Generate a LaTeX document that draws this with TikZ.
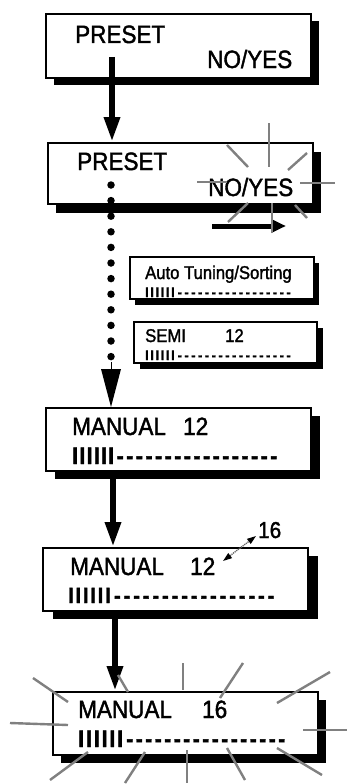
\documentclass[tikz,border=0pt]{standalone}
\usepackage{fontspec}
\newfontfamily\lcd{Liberation Sans}[FakeStretch=0.9, FakeBold=1.6]
\usetikzlibrary{arrows.meta,shadows}
\newcommand\lcdbars[4]{\fontsize{#1}{#1}\selectfont\foreach\k in {1,...,6}{\makebox[#2][l]{\bfseries I}}\foreach\k in {1,...,#3}{\makebox[#4]{\bfseries -}}}
\begin{document}
\begin{tikzpicture}[x=1pt,y=-1pt,
  lcdbox/.style={draw, line width=1.9pt, fill=white, anchor=north west, inner sep=0pt},
  shd/.style 2 args={drop shadow={shadow xshift=#1pt, shadow yshift=-#2pt, opacity=1, fill=black}},
  big/.style={anchor=base west, inner sep=0pt, font=\lcd\fontsize{25}{25}\selectfont},
  small/.style={anchor=base west, inner sep=0pt, font=\lcd\fontsize{18.5}{18.5}\selectfont},
  bars/.style={anchor=base west, inner sep=0pt, font=\lcd},
  flash/.style={draw=black!50, line width=2.4pt},
  bigarrow/.style={line width=6pt, -{Triangle[length=25pt,width=15pt]}}]
\useasboundingbox[fill=white] (0,0) rectangle (347,784);

% boxes
\node[lcdbox, shd={8}{7}, minimum width=265pt, minimum height=64pt] (b1) at (45,13) {};
\node[lcdbox, shd={8}{9}, minimum width=265pt, minimum height=61pt] (b2) at (47,142) {};
\node[lcdbox, shd={5}{6}, minimum width=184pt, minimum height=42pt] (b3) at (129,256) {};
\node[lcdbox, shd={6}{6}, minimum width=183pt, minimum height=41pt] (b4) at (133,321) {};
\node[lcdbox, shd={9}{8}, minimum width=265pt, minimum height=63pt] (b5) at (45,407) {};
\node[lcdbox, shd={10}{8}, minimum width=265pt, minimum height=63pt] (b6) at (42,547) {};
\node[lcdbox, shd={8}{8}, minimum width=265pt, minimum height=63pt] (b7) at (52,691) {};

% texts
\node[big] (t1a) at (75,43) {PRESET};
\node[big] (t1b) at (207,68) {NO/YES};
\node[big] (t2a) at (77,170) {PRESET};
\node[big] (t2b) at (208,196) {NO/YES};
\node[small] (t3a) at (145,279) {Auto Tuning/Sorting};
\node[bars] (t3b) at (145,297) {\lcdbars{14}{5.2pt}{17}{6.8pt}};
\node[small] (t4a) at (145,342) {SEMI};
\node[small] (t4c) at (225,342) {12};
\node[bars] (t4b) at (145,360) {\lcdbars{14}{5.2pt}{17}{6.8pt}};
\node[big] (t5a) at (72,435) {MANUAL};
\node[big] (t5c) at (183,435) {12};
\node[bars] (t5b) at (72,464) {\lcdbars{24}{7.2pt}{17}{9.6pt}};
\node[big] (t6a) at (70,575) {MANUAL};
\node[big] (t6c) at (190,575) {12};
\node[bars] (t6b) at (68,603) {\lcdbars{22}{7.4pt}{17}{9.6pt}};
\node[anchor=base west, inner sep=0pt, font=\lcd\fontsize{23}{23}\selectfont] (t16) at (258,538) {16};
\node[big] (t7a) at (78,718) {MANUAL};
\node[big] (t7c) at (202,718) {16};
\node[bars] (t7b) at (78,747) {\lcdbars{24}{7.8pt}{17}{9.5pt}};

% connectors
\coordinate (a1s) at (112,57);
\draw[bigarrow] (a1s) -- (b2.north -| a1s);
\coordinate (a2s) at (111,185);
\draw[line width=7.5pt, line cap=round, dash pattern=on 0pt off 15.6pt] (a2s) -- (111,357);
\draw[line width=0pt, -{Triangle[length=38pt,width=20pt]}] (111,362) -- (b5.north -| a2s);
\coordinate (a3s) at (113,470);
\draw[bigarrow] (b5.south -| a3s) -- (b6.north -| a3s);
\coordinate (a4s) at (115,610);
\draw[bigarrow] (b6.south -| a4s) -- (b7.north -| a4s);
\coordinate (ra1) at (212,226);
\coordinate (ra2) at (286,226);
\draw[line width=5pt, -{Triangle[length=15pt,width=13pt]}] (ra1) -- (ra2);
\coordinate (sa1) at (223,561);
\coordinate (sa2) at (256,536);
\draw[draw=black!60, line width=1.3pt, dash pattern=on 1.2pt off 0.8pt, {Triangle[length=9pt,width=6pt,fill=black,color=black]}-{Triangle[length=9pt,width=6pt,fill=black,color=black]}] (sa1) -- (sa2);

% flashes around NO/YES
\draw[flash] (227,145) -- (248,167);
\draw[flash] (269,123) -- (269,167);
\draw[flash] (307,153) -- (288,170);
\draw[flash] (197,182) -- (227,182);
\draw[flash] (300,183) -- (335,183);
\draw[flash] (248,203) -- (228,222);
\draw[flash] (272,203) -- (272,233);
\draw[flash] (295,205) -- (307,218);

% flashes around final box
\draw[flash] (33,678) -- (68,702);
\draw[flash] (10,723) -- (68,725);
\draw[flash] (118,675) -- (128,692);
\draw[flash] (183,663) -- (183,690);
\draw[flash] (243,663) -- (220,698);
\draw[flash] (330,672) -- (277,703);
\draw[flash] (303,730) -- (347,730);
\draw[flash] (88,752) -- (50,780);
\draw[flash] (145,752) -- (125,783);
\draw[flash] (187,750) -- (187,783);
\draw[flash] (227,748) -- (245,780);
\draw[flash] (277,748) -- (322,775);
\end{tikzpicture}
\end{document}
